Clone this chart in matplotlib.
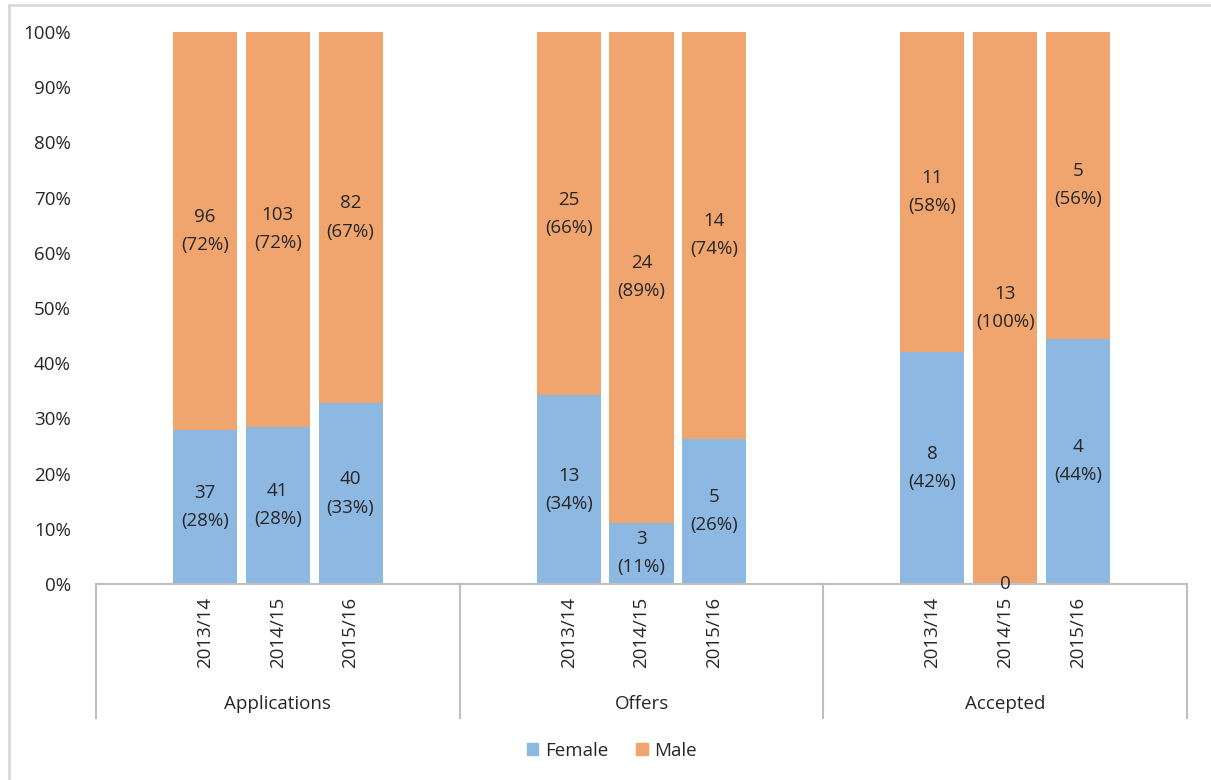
import matplotlib
matplotlib.use("Agg")
import matplotlib.pyplot as plt
import matplotlib.transforms as mtransforms
from matplotlib.lines import Line2D
from matplotlib.patches import Patch
import numpy as np

plt.rcParams['font.family'] = ['Open Sans', 'DejaVu Sans']

# data
stages = ['Applications', 'Offers', 'Accepted']
years = ['2013/14', '2014/15', '2015/16']
female = [[37, 41, 40], [13, 3, 5], [8, 0, 4]]
male = [[96, 103, 82], [25, 24, 14], [11, 13, 5]]

FEMALE_C = '#8DB8E2'
MALE_C = '#F0A56F'
TXT = '#262626'
GRID = '#BFBFBF'
FS = 13.5

W, H = 1211, 780
fig = plt.figure(figsize=(W / 100, H / 100), dpi=100)
ax = fig.add_axes([96 / W, 1 - 584 / H, (1187 - 96) / W, (584 - 32) / H])

# outer chart frame (top and left edges visible)
fig.add_artist(Line2D([9 / W, 9 / W], [0, 1 - 5 / H], transform=fig.transFigure, color='#D9D9D9', lw=2))
fig.add_artist(Line2D([9 / W, 1], [1 - 5 / H, 1 - 5 / H], transform=fig.transFigure, color='#D9D9D9', lw=2))

slots = 5  # blank, 3 years, blank per group
for g, stage in enumerate(stages):
    for j, yr in enumerate(years):
        x = g * slots + 1 + j
        f, m = female[g][j], male[g][j]
        tot = f + m
        fp, mp = f / tot * 100, m / tot * 100
        ax.bar(x, fp, width=0.88, color=FEMALE_C, edgecolor='none')
        ax.bar(x, mp, bottom=fp, width=0.88, color=MALE_C, edgecolor='none')
        if f == 0:
            ax.text(x, 0, '0', ha='center', va='center', fontsize=FS, color=TXT, clip_on=False, zorder=5)
        else:
            ax.text(x, fp / 2, f'{f}\n({fp:.0f}%)', ha='center', va='center', fontsize=FS,
                    color=TXT, linespacing=1.72)
        ax.text(x, fp + mp / 2, f'{m}\n({mp:.0f}%)', ha='center', va='center', fontsize=FS,
                color=TXT, linespacing=1.72)

ax.set_xlim(-0.5, len(stages) * slots - 0.5)
ax.set_ylim(0, 100)
ax.set_yticks(np.arange(0, 101, 10))
ax.set_yticklabels([f'{v}%' for v in range(0, 101, 10)], fontsize=FS, color=TXT)
ax.tick_params(axis='y', length=0, pad=18)
ax.set_xticks([])
for s in ['top', 'right', 'left']:
    ax.spines[s].set_visible(False)
ax.spines['bottom'].set_color(GRID)
ax.spines['bottom'].set_linewidth(1.5)

# multi-level category axis
tr = mtransforms.blended_transform_factory(ax.transData, ax.transAxes)
y_low = (584 - 718) / 552
for g in range(len(stages) + 1):
    xb = g * slots - 0.5
    ax.add_artist(Line2D([xb, xb], [0, y_low], transform=tr, color=GRID, lw=1.5, clip_on=False))
for g, stage in enumerate(stages):
    for j, yr in enumerate(years):
        ax.text(g * slots + 1 + j, (584 - 597) / 552, yr, transform=tr, rotation=90,
                ha='center', va='top', fontsize=FS, color=TXT)
    ax.text(g * slots + 2, (584 - 704) / 552, stage, transform=tr, ha='center', va='center',
            fontsize=FS, color=TXT)

handles = [Patch(color=FEMALE_C, label='Female'), Patch(color=MALE_C, label='Male')]
fig.legend(handles=handles, loc='center', bbox_to_anchor=(612 / W, 1 - 751 / H), ncol=2,
           frameon=False, fontsize=FS, handlelength=0.6, handleheight=0.6, handletextpad=0.35,
           columnspacing=1.5, labelcolor=TXT)

fig.savefig('out.png', dpi=100)
